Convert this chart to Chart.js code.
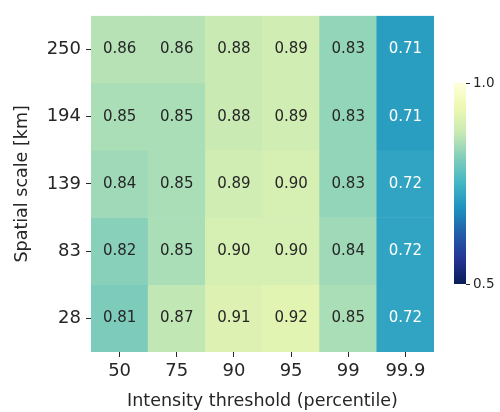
<!DOCTYPE html>
<html>
<head>
<meta charset="utf-8">
<script src="https://cdn.jsdelivr.net/npm/chart.js@4.4.1/dist/chart.umd.min.js"></script>
<style>
html,body{margin:0;padding:0;background:#fff;}
#wrap{width:500px;height:412px;position:relative;}
</style>
</head>
<body>
<div id="wrap"><canvas id="c" width="500" height="412"></canvas></div>
<script>
// ---- data ----
const thresholds = ['50', '75', '90', '95', '99', '99.9'];
const scales = ['250', '194', '139', '83', '28'];   // top to bottom
const row250 = [0.86, 0.86, 0.88, 0.89, 0.83, 0.71];
const row194 = [0.85, 0.85, 0.88, 0.89, 0.83, 0.71];
const row139 = [0.84, 0.85, 0.89, 0.90, 0.83, 0.72];
const row83  = [0.82, 0.85, 0.90, 0.90, 0.84, 0.72];
const row28  = [0.81, 0.87, 0.91, 0.92, 0.85, 0.72];
const values = [row250, row194, row139, row83, row28];
const cbMin = 0.5, cbMax = 1.0;
const cbTicks = ['0.5', '1.0'];

// ---- colormap (YlGnBu reversed: high = yellow) ----
const ylgnbu = ['#ffffd9','#edf8b1','#c7e9b4','#7fcdbb','#41b6c4','#1d91c0','#225ea8','#253494','#081d58'];
function hexRgb(h){return [parseInt(h.slice(1,3),16),parseInt(h.slice(3,5),16),parseInt(h.slice(5,7),16)];}
const stops = ylgnbu.map(hexRgb);
function cmapRgb(v){
  let t = (v - cbMin) / (cbMax - cbMin);
  t = Math.max(0, Math.min(1, t));
  const s = (1 - t) * (stops.length - 1);
  const i = Math.min(stops.length - 2, Math.floor(s));
  const f = s - i;
  return stops[i].map((c, k) => c + (stops[i+1][k] - c) * f);
}
function cmap(v){const c = cmapRgb(v);return 'rgb(' + c.map(x=>Math.round(x)).join(',') + ')';}
function textColor(v){
  const c = cmapRgb(v).map(x=>{x/=255;return x<=0.03928?x/12.92:Math.pow((x+0.055)/1.055,2.4);});
  const lum = 0.2126*c[0]+0.7152*c[1]+0.0722*c[2];
  return lum > 0.408 ? '#262626' : '#ffffff';
}

const nRows = scales.length;
const datasets = values.map((row, r) => {
  const pos = nRows - 1 - r;
  return {
    label: scales[r],
    data: row.map(() => [pos - 0.5, pos + 0.5]),
    backgroundColor: row.map(v => cmap(v)),
    borderWidth: 0,
    barPercentage: 1,
    categoryPercentage: 1,
    grouped: false
  };
});

const FONT = "'DejaVu Sans', sans-serif";

const cellLabels = {
  id: 'cellLabels',
  afterDatasetsDraw(chart){
    const ctx = chart.ctx;
    ctx.save();
    ctx.font = "15px " + FONT;
    ctx.textAlign = 'center';
    ctx.textBaseline = 'middle';
    chart.data.datasets.forEach((ds, r) => {
      const meta = chart.getDatasetMeta(r);
      meta.data.forEach((el, i) => {
        const v = values[r][i];
        ctx.fillStyle = textColor(v);
        ctx.fillText(v.toFixed(2), el.x, (el.y + el.base) / 2);
      });
    });
    ctx.restore();
  }
};

const colorbar = {
  id: 'colorbar',
  afterDraw(chart){
    const ctx = chart.ctx;
    const x0 = 454, w = 12, top = 83, bot = 284;
    ctx.save();
    const g = ctx.createLinearGradient(0, bot, 0, top);
    for (let k = 0; k <= 50; k++){
      const v = cbMin + (cbMax - cbMin) * k / 50;
      g.addColorStop(k/50, cmap(v));
    }
    ctx.fillStyle = g;
    ctx.fillRect(x0, top, w, bot - top);
    ctx.strokeStyle = '#262626';
    ctx.lineWidth = 1;
    ctx.font = "13.5px " + FONT;
    ctx.fillStyle = '#262626';
    ctx.textAlign = 'left';
    ctx.textBaseline = 'middle';
    cbTicks.forEach(t => {
      const v = parseFloat(t);
      const y = bot - (v - cbMin) / (cbMax - cbMin) * (bot - top);
      ctx.beginPath();
      ctx.moveTo(x0 + w, Math.round(y) + 0.5);
      ctx.lineTo(x0 + w + 4, Math.round(y) + 0.5);
      ctx.stroke();
      ctx.fillText(t, x0 + w + 7, y);
    });
    ctx.restore();
  }
};

new Chart(document.getElementById('c'), {
  type: 'bar',
  data: { labels: thresholds, datasets },
  options: {
    responsive: false,
    animation: false,
    events: [],
    layout: { padding: { top: 13, right: 66, left: 0, bottom: 0 } },
    plugins: { legend: { display: false }, tooltip: { enabled: false } },
    scales: {
      x: {
        grid: { display: true, offset: false, drawOnChartArea: false, drawTicks: true, tickLength: 5, tickColor: '#262626', tickWidth: 1, color: 'rgba(0,0,0,0)' },
        border: { display: false },
        ticks: { color: '#262626', font: { family: FONT, size: 18 }, padding: 4, maxRotation: 0 },
        title: { display: true, text: 'Intensity threshold (percentile)', color: '#262626', font: { family: FONT, size: 17.5 }, padding: { top: 4, bottom: 0 } },
        afterFit(s){ s.height = 60; }
      },
      y: {
        type: 'linear',
        min: -0.5, max: nRows - 0.5,
        afterBuildTicks(s){ s.ticks = scales.map((_, i) => ({ value: i })); },
        grid: { display: true, drawOnChartArea: false, drawTicks: true, tickLength: 5, tickColor: '#262626', tickWidth: 1, color: 'rgba(0,0,0,0)' },
        border: { display: false },
        ticks: { color: '#262626', font: { family: FONT, size: 18 }, padding: 5,
          callback: (v) => scales[nRows - 1 - v] },
        title: { display: true, text: 'Spatial scale [km]', color: '#262626', font: { family: FONT, size: 17.5 }, padding: { top: 12, bottom: 0 } },
        afterFit(s){ s.width = 91; }
      }
    }
  },
  plugins: [cellLabels, colorbar]
});
</script>
</body>
</html>
